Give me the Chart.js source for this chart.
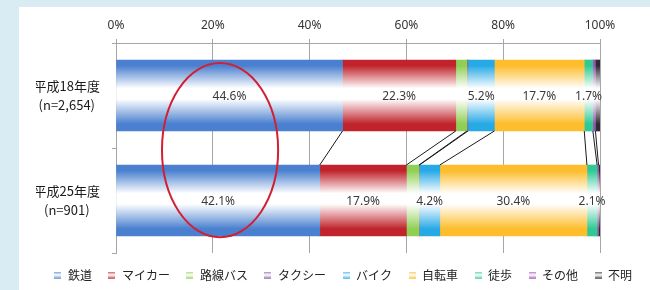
<!DOCTYPE html>
<html>
<head>
<meta charset="utf-8">
<script src="https://cdn.jsdelivr.net/npm/chart.js@4.4.1/dist/chart.umd.min.js"></script>
<style>
html, body { margin: 0; padding: 0; background: #d9ecf4; }
#wrap { position: relative; width: 650px; height: 290px; overflow: hidden; }
#panel { position: absolute; left: 19px; top: 7px; right: 0; bottom: 0; background: #fff; }
#chart { position: absolute; left: 0; top: 0; }
</style>
</head>
<body>
<div id="wrap"><div id="panel"></div><canvas id="chart" width="650" height="290"></canvas></div>
<script>
// values (raw survey %, Excel normalises each bar to 100%)
var periods = [['平成18年度', '(n=2,654)'], ['平成25年度', '(n=901)']];
var modes = ['鉄道', 'マイカー', '路線バス', 'タクシー', 'バイク', '自転車', '徒歩', 'その他', '不明'];
var h18 = [44.6, 22.3, 2.2, 0.2, 5.2, 17.7, 1.7, 0.5, 0.9];
var h25 = [42.1, 17.9, 2.6, 0.1, 4.2, 30.4, 2.1, 0.3, 0.3];
var labelled = [true, true, false, false, true, true, true, false, false];
var xTicks = [0, 20, 40, 60, 80, 100];

var colors = ['#4a80cf', '#c0232b', '#8fd054', '#7d5fa3', '#27a9e6', '#fdbd2c', '#2fc995', '#a04cb0', '#2d2a33'];
var CJK = '"Noto Sans CJK JP", sans-serif';
var NUM = '"Noto Sans", "Noto Sans CJK JP", sans-serif';
var BAR = 71;

function toPct(row) {
  var s = row.reduce(function (a, b) { return a + b; }, 0);
  return row.map(function (v) { return v / s * 100; });
}
var p18 = toPct(h18);
var p25 = toPct(h25);

function gradFor(i) {
  return function (ctx) {
    var chart = ctx.chart;
    var ys = chart.scales.y;
    if (!ys || ctx.dataIndex == null) return colors[i];
    var top = ys.getPixelForValue(ctx.dataIndex) - BAR / 2;
    var g = chart.ctx.createLinearGradient(0, top, 0, top + BAR);
    g.addColorStop(0, colors[i]);
    g.addColorStop(0.08, colors[i]);
    g.addColorStop(0.40, '#ffffff');
    g.addColorStop(0.55, '#ffffff');
    g.addColorStop(0.90, colors[i]);
    g.addColorStop(1, colors[i]);
    return g;
  };
}

function marker(col) {
  var c = document.createElement('canvas');
  c.width = 7; c.height = 7;
  var x = c.getContext('2d');
  var g = x.createLinearGradient(0, 0, 0, 7);
  g.addColorStop(0, col);
  g.addColorStop(0.5, '#ffffff');
  g.addColorStop(1, col);
  x.globalAlpha = 0.8;
  x.fillStyle = g;
  x.fillRect(0, 0, 7, 7);
  return c;
}
var markers = colors.map(marker);

var datasets = modes.map(function (m, i) {
  return {
    label: m,
    data: [p18[i], p25[i]],
    raw: [h18[i], h25[i]],
    backgroundColor: gradFor(i),
    borderWidth: 0,
    barThickness: BAR
  };
});

var seriesLines = {
  id: 'seriesLines',
  afterDatasetsDraw: function (chart) {
    var c = chart.ctx;
    c.save();
    c.strokeStyle = '#1a1a1a';
    c.lineWidth = 1;
    for (var i = 0; i < modes.length - 1; i++) {
      var meta = chart.getDatasetMeta(i);
      var a = meta.data[0], b = meta.data[1];
      c.beginPath();
      c.moveTo(a.x, a.y + a.height / 2);
      c.lineTo(b.x, b.y - b.height / 2);
      c.stroke();
    }
    c.restore();
  }
};

var valueLabels = {
  id: 'valueLabels',
  afterDatasetsDraw: function (chart) {
    var c = chart.ctx;
    c.save();
    c.font = '12px ' + NUM;
    c.fillStyle = '#3a3a3a';
    c.textAlign = 'center';
    c.textBaseline = 'middle';
    chart.data.datasets.forEach(function (ds, i) {
      if (!labelled[i]) return;
      chart.getDatasetMeta(i).data.forEach(function (el, j) {
        c.fillText(ds.raw[j].toFixed(1) + '%', (el.x + el.base) / 2, el.y + 1);
      });
    });
    c.restore();
  }
};

var ring = {
  id: 'ring',
  afterDatasetsDraw: function (chart) {
    var xs = chart.scales.x, ys = chart.scales.y;
    var cx = xs.getPixelForValue(21.5);
    var rx = xs.getPixelForValue(33.5) - cx;
    var cy = ys.getPixelForValue(0.52);
    var ry = (ys.getPixelForValue(1) - ys.getPixelForValue(0)) * 0.83;
    var c = chart.ctx;
    c.save();
    c.strokeStyle = '#d21f33';
    c.lineWidth = 2;
    c.beginPath();
    c.ellipse(cx, cy, rx, ry, 0, 0, Math.PI * 2);
    c.stroke();
    c.restore();
  }
};

new Chart(document.getElementById('chart'), {
  type: 'bar',
  data: { labels: periods, datasets: datasets },
  plugins: [seriesLines, valueLabels, ring],
  options: {
    indexAxis: 'y',
    responsive: false,
    animation: false,
    devicePixelRatio: 1,
    layout: { padding: { left: 36, right: 0, top: 0, bottom: -1 } },
    plugins: {
      tooltip: { enabled: false },
      legend: {
        position: 'bottom',
        labels: {
          usePointStyle: true,
          boxWidth: 8,
          boxHeight: 8,
          padding: 16,
          color: '#222',
          font: { size: 12, family: CJK },
          generateLabels: function () {
            return modes.map(function (m, i) {
              return { text: m, fillStyle: colors[i], strokeStyle: colors[i], lineWidth: 0,
                       pointStyle: markers[i], datasetIndex: i, hidden: false, fontColor: '#222' };
            });
          }
        }
      }
    },
    scales: {
      x: {
        position: 'top',
        stacked: true,
        min: 0,
        max: 100,
        grid: { color: '#a6a6a6', tickLength: 4 },
        border: { color: '#a6a6a6' },
        ticks: { padding: 6, color: '#333', font: { size: 12, family: NUM },
                 callback: function (v) { return v + '%'; } },
        afterBuildTicks: function (s) { s.ticks = xTicks.map(function (v) { return { value: v }; }); },
        afterFit: function (s) { s.height = 43; }
      },
      y: {
        stacked: true,
        grid: { offset: true, drawOnChartArea: false, tickLength: 4, color: '#a6a6a6' },
        border: { color: '#a6a6a6' },
        ticks: { crossAlign: 'center', padding: 12, color: '#1a1a1a',
                 font: { size: 13, family: CJK, lineHeight: 1.5 } },
        afterFit: function (s) { s.width = 80; }
      },
      yR: {
        type: 'linear',
        position: 'right',
        grid: { display: false },
        border: { display: false },
        ticks: { display: false },
        afterFit: function (s) { s.width = 50; }
      }
    }
  }
});
</script>
</body>
</html>
